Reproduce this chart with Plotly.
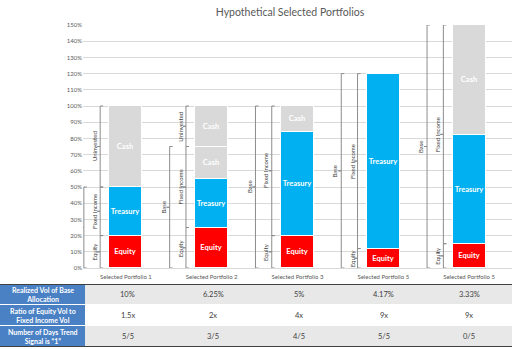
import plotly.graph_objects as go

portfolios = ["Selected Portfolio 1", "Selected Portfolio 2", "Selected Portfolio 3",
              "Selected Portfolio 5", "Selected Portfolio 5"]
equity = [20, 25, 20, 12, 15]
treasury = [30, 30, 64, 108, 67]
cash_low = [50, 20, 16, 0, 68]
cash_high = [0, 25, 0, 0, 0]

inner_bounds = [[0, 20, 50, 100], [0, 25, 75, 100], [0, 20, 100], [0, 12, 120], [0, 15, 150]]
inner_labels = [["Equity", "Fixed Income", "Uninvested"],
                ["Equity", "Fixed Income", "Uninvested"],
                ["Equity", "Fixed Income"],
                ["Equity", "Fixed Income"],
                ["Equity", "Fixed Income"]]
base_top = [50, 75, 100, 120, 150]

row_labels = ["Realized Vol of Base<br>Allocation", "Ratio of Equity Vol to<br>Fixed Income Vol",
              "Number of Days Trend<br>Signal is \u201c1\u201d"]
realized_vol = ["10%", "6.25%", "5%", "4.17%", "3.33%"]
vol_ratio = ["1.5x", "2x", "4x", "9x", "9x"]
trend_days = ["5/5", "3/5", "4/5", "5/5", "0/5"]

W, H = 521, 349
FONT = "Lato"
GREY_TXT = "#595959"
xs = list(range(len(portfolios)))

fig = go.Figure()

def add_bar(vals, color, label):
    fig.add_trace(go.Bar(
        x=xs, y=vals, width=0.385, marker=dict(color=color, line=dict(color="white", width=1)),
        text=[label if v > 0 else "" for v in vals], textposition="inside",
        insidetextanchor="middle", textangle=0, constraintext="none",
        textfont=dict(family=FONT, size=7.5, color="white", weight="bold"),
        hoverinfo="skip", showlegend=False))

add_bar(equity, "#FF0000", "Equity")
add_bar(treasury, "#00B0F0", "Treasury")
add_bar(cash_low, "#D9D9D9", "Cash")
add_bar(cash_high, "#D9D9D9", "Cash")

# brackets
d = 0.035
inner_off = -0.30
outer_off = -0.49
lab_off = -0.065
annotations = []
bx, by = [], []
for i in xs:
    x = i + inner_off
    b = inner_bounds[i]
    for k in range(len(b) - 1):
        y0, y1 = b[k], b[k + 1]
        ym = (y0 + y1) / 2
        bx += [x + d, x, x, x - d, x, x, x + d, None]
        by += [y0, y0, ym, ym, ym, y1, y1, None]
        annotations.append(dict(x=x + lab_off, y=ym, xref="x", yref="y", text=inner_labels[i][k],
                                textangle=-90, showarrow=False, xanchor="center", yanchor="middle",
                                font=dict(family=FONT, size=6, color="#404040")))
    x = i + outer_off
    y0, y1 = 0, base_top[i]
    ym = (y0 + y1) / 2
    bx += [x + d, x, x, x - d, x, x, x + d, None]
    by += [y0, y0, ym, ym, ym, y1, y1, None]
    annotations.append(dict(x=x + lab_off - 0.01, y=ym, xref="x", yref="y", text="Base",
                            textangle=-90, showarrow=False, xanchor="center", yanchor="middle",
                            font=dict(family=FONT, size=6, color="#404040")))

fig.add_trace(go.Scatter(x=bx, y=by, mode="lines", line=dict(color="#8C8C8C", width=1),
                         hoverinfo="skip", showlegend=False, cliponaxis=False))

# table (heatmap for cell fills + annotations for text)
BLUE = "#4A80C4"
ROWG = "#E8E8E8"
TXT = "#404040"
rows = [realized_vol, vol_ratio, trend_days]
col_edges = [0, 85] + [85 + 85.4 * (i + 1) for i in xs]
row_edges = [0, 1, 2, 3]
z = [[2] + [1] * len(xs), [2] + [0] * len(xs), [2] + [1] * len(xs)]
fig.add_trace(go.Heatmap(x=col_edges, y=row_edges, z=z, xaxis="x2", yaxis="y2",
                         colorscale=[[0, "white"], [0.5, ROWG], [1, BLUE]], zmin=0, zmax=2,
                         showscale=False, ygap=1, hoverinfo="skip"))
for r in range(3):
    annotations.append(dict(x=(col_edges[0] + col_edges[1]) / 2, y=r + 0.5, xref="x2", yref="y2",
                            text="<b>" + row_labels[r] + "</b>", showarrow=False,
                            font=dict(family=FONT, size=7, color="white")))
    for i in xs:
        annotations.append(dict(x=(col_edges[i + 1] + col_edges[i + 2]) / 2, y=r + 0.5,
                                xref="x2", yref="y2", text=rows[r][i], showarrow=False,
                                font=dict(family=FONT, size=7.5, color=TXT)))

shapes = [
    dict(type="line", xref="x2", yref="y2", x0=0, x1=col_edges[-1], y0=0, y1=0,
         line=dict(color="#404040", width=2)),
    dict(type="line", xref="x2", yref="y2", x0=0, x1=col_edges[-1], y0=3, y1=3,
         line=dict(color="#404040", width=2)),
]

fig.update_layout(
    width=W, height=H, margin=dict(l=0, r=0, t=0, b=0, autoexpand=False),
    paper_bgcolor="white", plot_bgcolor="white", barmode="stack", bargap=0,
    font=dict(family=FONT, color=GREY_TXT),
    title=dict(text="Hypothetical Selected Portfolios", x=290 / W, xanchor="center",
               y=1 - 12 / H, yanchor="middle", yref="container",
               font=dict(family=FONT, size=10.5, color=GREY_TXT)),
    xaxis=dict(domain=[83 / W, 512 / W], range=[-0.5, 4.5], tickvals=xs, ticktext=portfolios,
               showgrid=False, zeroline=False, showline=True, linecolor="#D9D9D9", linewidth=1,
               ticks="", tickfont=dict(family=FONT, size=6, color=GREY_TXT), fixedrange=True,
               automargin=False, anchor="y", ticklabelstandoff=3),
    yaxis=dict(domain=[(H - 268) / H, (H - 25) / H], range=[0, 150], dtick=10, ticksuffix="%",
               showgrid=True, gridcolor="#D9D9D9", gridwidth=1, zeroline=False, ticks="",
               tickfont=dict(family=FONT, size=6, color=GREY_TXT), fixedrange=True,
               automargin=False, anchor="x"),
    xaxis2=dict(domain=[0, col_edges[-1] / W], range=[0, col_edges[-1]], visible=False,
                fixedrange=True, anchor="y2"),
    yaxis2=dict(domain=[(H - 347) / H, (H - 284) / H], range=[3, 0], visible=False,
                fixedrange=True, anchor="x2"),
    annotations=annotations, shapes=shapes,
)

fig.write_html("out.html")
